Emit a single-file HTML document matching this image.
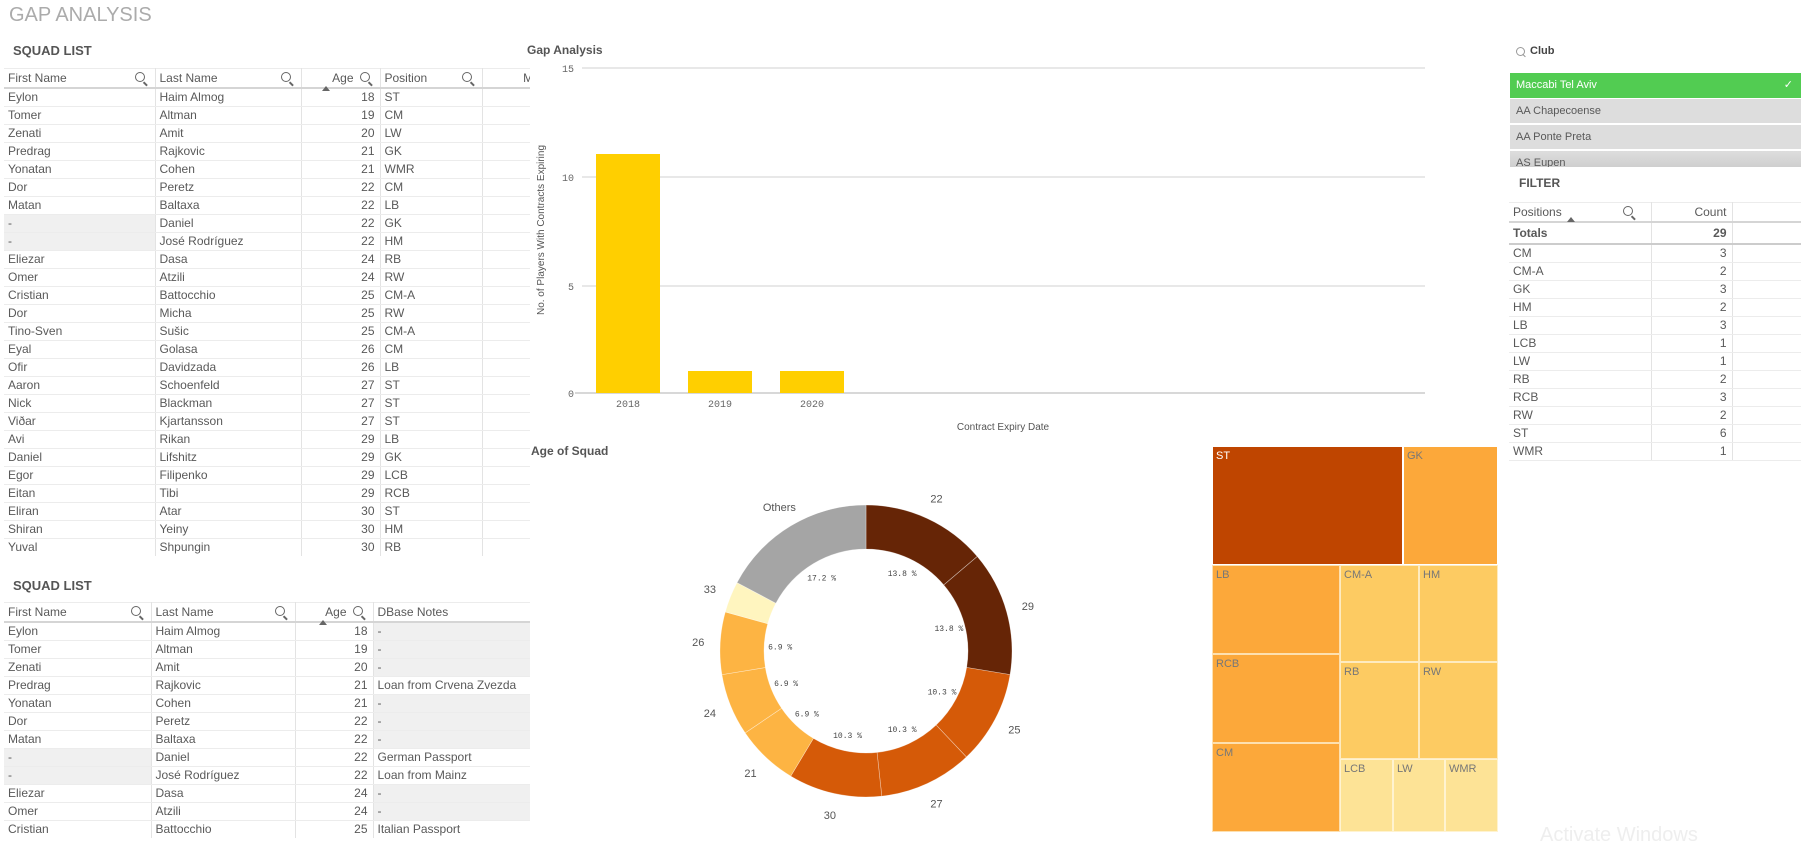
<!DOCTYPE html>
<html><head><meta charset="utf-8">
<style>
body{margin:0;width:1805px;height:838px;overflow:hidden;background:#fff;font-family:"Liberation Sans",sans-serif;color:#595959;position:relative}
.a{position:absolute}
.t{position:absolute;font-size:12px;white-space:nowrap}
table{border-collapse:collapse;table-layout:fixed;font-size:12px;color:#595959}
td{height:17px;line-height:17px;border-bottom:1px solid #ececec;border-right:1px solid #e3e3e3;padding:0 0 0 4px;white-space:nowrap;overflow:hidden}
th{height:18px;line-height:18px;font-weight:normal;text-align:left;padding:0 0 0 4px;border-right:1px solid #e3e3e3;border-bottom:2px solid #d5d5d5;border-top:1px solid #ececec;position:relative}
.r{text-align:right;padding-right:5px}
.g{background:#f0f0f0}
.h{font-weight:bold;font-size:13px;color:#555}
.q{position:absolute;right:10px;top:3px;width:8px;height:8px;border:1.5px solid #666;border-radius:50%}
.q:after{content:"";position:absolute;width:5px;height:1.5px;background:#666;left:7px;top:10px;transform:rotate(45deg)}
.tri{position:absolute;width:0;height:0;border-left:4px solid transparent;border-right:4px solid transparent;border-bottom:5px solid #666}
</style></head><body>
<div class="t" style="left:9px;top:4px;font-size:20px;color:#ababab">GAP ANALYSIS</div>
<div class="t h" style="left:13px;top:43px">SQUAD LIST</div>

<div class="a" style="left:4px;top:68px;width:526px;height:488px;overflow:hidden">
<table id="t1" style="width:560px"><colgroup><col style="width:151px"><col style="width:146px"><col style="width:79px"><col style="width:102px"><col style="width:82px"></colgroup>
<tr><th>First Name<span class="q"></span></th><th>Last Name<span class="q"></span></th><th style="text-align:right;padding-right:26px">Age<span class="q"></span><span class="tri" style="left:20px;top:17px"></span></th><th>Position<span class="q"></span></th><th>&nbsp;&nbsp;&nbsp;&nbsp;&nbsp;&nbsp;&nbsp;&nbsp;&nbsp;&nbsp;&nbsp;M</th></tr>
</table></div>

<div class="t h" style="left:13px;top:578px">SQUAD LIST</div>
<div class="a" style="left:4px;top:602px;width:526px;height:236px;overflow:hidden">
<table id="t2" style="width:526px"><colgroup><col style="width:147px"><col style="width:144px"><col style="width:78px"><col style="width:157px"></colgroup>
<tr><th>First Name<span class="q"></span></th><th>Last Name<span class="q"></span></th><th style="text-align:right;padding-right:26px">Age<span class="q"></span><span class="tri" style="left:23px;top:17px"></span></th><th style="border-right:none">DBase Notes</th></tr>
</table></div>

<!-- bar chart -->
<div class="t h" style="left:527px;top:43px;font-size:12px">Gap Analysis</div>
<svg class="a" style="left:520px;top:60px" width="920" height="380">
<g stroke="#e0e0e0" stroke-width="1.5"><line x1="62" y1="8" x2="905" y2="8"/><line x1="62" y1="117" x2="905" y2="117"/><line x1="62" y1="226" x2="905" y2="226"/></g>
<line x1="55" y1="333" x2="905" y2="333" stroke="#ccc" stroke-width="1.5"/>
<g fill="#ffcf00"><rect x="76" y="94" width="64" height="239"/><rect x="168" y="311" width="64" height="22"/><rect x="260" y="311" width="64" height="22"/></g>
<g font-family="Liberation Mono,monospace" font-size="10" fill="#666" text-anchor="end"><text x="54" y="12">15</text><text x="54" y="121">10</text><text x="54" y="230">5</text><text x="54" y="337">0</text></g>
<g font-family="Liberation Mono,monospace" font-size="10" fill="#666" text-anchor="middle"><text x="108" y="347">2018</text><text x="200" y="347">2019</text><text x="292" y="347">2020</text></g>
<text x="483" y="370" font-size="10" fill="#555" text-anchor="middle" font-family="Liberation Sans">Contract Expiry Date</text>
<text transform="translate(24,170) rotate(-90)" font-size="10" fill="#555" text-anchor="middle" font-family="Liberation Sans">No. of Players With Contracts Expiring</text>
</svg>

<!-- donut -->
<div class="t h" style="left:531px;top:444px;font-size:12px">Age of Squad</div>
<svg class="a" style="left:0;top:0" width="1805" height="838" id="dn"></svg>

<!-- treemap -->
<div class="a" style="left:1212px;top:446px;width:286px;height:386px;font-size:11px;color:#fff">
<div class="a" style="left:0;top:0;width:191px;height:119px;background:#bf4500;border:1px solid #fff;box-sizing:border-box;padding:3px">ST</div>
<div class="a" style="left:191px;top:0;width:95px;height:119px;background:#fca83a;border:1px solid #fff;box-sizing:border-box;padding:3px;color:#777">GK</div>
<div class="a" style="left:0;top:119px;width:128px;height:89px;background:#fca83a;border:1px solid #fde0b0;box-sizing:border-box;padding:3px;color:#777">LB</div>
<div class="a" style="left:0;top:208px;width:128px;height:89px;background:#fca83a;border:1px solid #fde0b0;box-sizing:border-box;padding:3px;color:#777">RCB</div>
<div class="a" style="left:0;top:297px;width:128px;height:89px;background:#fca83a;border:1px solid #fde0b0;box-sizing:border-box;padding:3px;color:#777">CM</div>
<div class="a" style="left:128px;top:119px;width:79px;height:97px;background:#fdcb62;border:1px solid #feebc0;box-sizing:border-box;padding:3px;color:#777">CM-A</div>
<div class="a" style="left:207px;top:119px;width:79px;height:97px;background:#fdcb62;border:1px solid #feebc0;box-sizing:border-box;padding:3px;color:#777">HM</div>
<div class="a" style="left:128px;top:216px;width:79px;height:97px;background:#fdcb62;border:1px solid #feebc0;box-sizing:border-box;padding:3px;color:#777">RB</div>
<div class="a" style="left:207px;top:216px;width:79px;height:97px;background:#fdcb62;border:1px solid #feebc0;box-sizing:border-box;padding:3px;color:#777">RW</div>
<div class="a" style="left:128px;top:313px;width:53px;height:73px;background:#fde396;border:1px solid #fff3d0;box-sizing:border-box;padding:3px;color:#777">LCB</div>
<div class="a" style="left:181px;top:313px;width:52px;height:73px;background:#fde396;border:1px solid #fff3d0;box-sizing:border-box;padding:3px;color:#777">LW</div>
<div class="a" style="left:233px;top:313px;width:53px;height:73px;background:#fde396;border:1px solid #fff3d0;box-sizing:border-box;padding:3px;color:#777">WMR</div>
</div>

<!-- club -->
<div class="a" style="left:1516px;top:47px;width:7px;height:7px;border:1px solid #999;border-radius:50%"></div>
<div class="a" style="left:1522px;top:55px;width:4px;height:1px;background:#999;transform:rotate(45deg)"></div>
<div class="t" style="left:1530px;top:45px;font-weight:bold;font-size:11px;color:#444">Club</div>
<div class="a" style="left:1510px;top:73px;width:291px;height:25px;background:#52cc52;color:#fff;font-size:11px;line-height:25px;padding-left:6px;box-sizing:border-box">Maccabi Tel Aviv<span style="position:absolute;right:8px">✓</span></div>
<div class="a" style="left:1510px;top:99px;width:291px;height:24px;background:#dddddd;font-size:11px;line-height:24px;padding-left:6px;box-sizing:border-box">AA Chapecoense</div>
<div class="a" style="left:1510px;top:125px;width:291px;height:24px;background:#dddddd;font-size:11px;line-height:24px;padding-left:6px;box-sizing:border-box">AA Ponte Preta</div>
<div class="a" style="left:1510px;top:151px;width:291px;height:16px;background:linear-gradient(#dddddd,#cfcfcf);font-size:11px;line-height:24px;padding-left:6px;box-sizing:border-box;overflow:hidden">AS Eupen</div>
<div class="t h" style="left:1519px;top:176px;font-size:12px">FILTER</div>
<div class="a" style="left:1509px;top:202px;width:292px;overflow:hidden">
<table id="t3" style="width:292px"><colgroup><col style="width:142px"><col style="width:81px"><col style="width:69px"></colgroup>
<tr><th>Positions<span class="q" style="right:18px"></span><span class="tri" style="left:58px;top:14px"></span></th><th class="r">Count</th><th style="border-right:none"></th></tr>
<tr><td style="font-weight:bold;height:20px;border-bottom:2px solid #ccc">Totals</td><td class="r" style="font-weight:bold;border-bottom:2px solid #ccc">29</td><td style="border-right:none;border-bottom:2px solid #ccc"></td></tr>
</table></div>
<div class="t" style="left:1540px;top:824px;font-size:20px;color:#eeeeee">Activate Windows</div>

<script>
var d1=[["Eylon","Haim Almog",18,"ST"],["Tomer","Altman",19,"CM"],["Zenati","Amit",20,"LW"],["Predrag","Rajkovic",21,"GK"],["Yonatan","Cohen",21,"WMR"],["Dor","Peretz",22,"CM"],["Matan","Baltaxa",22,"LB"],["-","Daniel",22,"GK"],["-","José Rodríguez",22,"HM"],["Eliezar","Dasa",24,"RB"],["Omer","Atzili",24,"RW"],["Cristian","Battocchio",25,"CM-A"],["Dor","Micha",25,"RW"],["Tino-Sven","Sušic",25,"CM-A"],["Eyal","Golasa",26,"CM"],["Ofir","Davidzada",26,"LB"],["Aaron","Schoenfeld",27,"ST"],["Nick","Blackman",27,"ST"],["Viðar","Kjartansson",27,"ST"],["Avi","Rikan",29,"LB"],["Daniel","Lifshitz",29,"GK"],["Egor","Filipenko",29,"LCB"],["Eitan","Tibi",29,"RCB"],["Eliran","Atar",30,"ST"],["Shiran","Yeiny",30,"HM"],["Yuval","Shpungin",30,"RB"]];
var notes=["-","-","-","Loan from Crvena Zvezda","-","-","-","German Passport","Loan from Mainz","-","-","Italian Passport","-"];
var h="";d1.forEach(function(r){h+="<tr><td"+(r[0]=="-"?" class=g":"")+">"+r[0]+"</td><td>"+r[1]+"</td><td class=r>"+r[2]+"</td><td>"+r[3]+"</td><td></td></tr>"});
document.getElementById("t1").insertAdjacentHTML("beforeend",h);
h="";for(var i=0;i<13;i++){var r=d1[i];h+="<tr><td"+(r[0]=="-"?" class=g":"")+">"+r[0]+"</td><td>"+r[1]+"</td><td class=r>"+r[2]+"</td><td style='border-right:none' "+(notes[i]=="-"?"class=g":"")+">"+notes[i]+"</td></tr>"}
document.getElementById("t2").insertAdjacentHTML("beforeend",h);
var f=[["CM",3],["CM-A",2],["GK",3],["HM",2],["LB",3],["LCB",1],["LW",1],["RB",2],["RCB",3],["RW",2],["ST",6],["WMR",1]];
h="";f.forEach(function(r){h+="<tr><td>"+r[0]+"</td><td class=r>"+r[1]+"</td><td style='border-right:none'></td></tr>"});
document.getElementById("t3").insertAdjacentHTML("beforeend",h);
var cx=866,cy=651,R=146,r0=102;
var seg=[["22",4,"#662506"],["29",4,"#662506"],["25",3,"#d55a08"],["27",3,"#d55a08"],["30",3,"#d55a08"],["21",2,"#fdb443"],["24",2,"#fdb443"],["26",2,"#fdb443"],["33",1,"#fff5bf"],["Others",5,"#a5a5a5"]];
var pct={1:"3.4 %",2:"6.9 %",3:"10.3 %",4:"13.8 %",5:"17.2 %"};
var a=0,s="";function P(rr,t){return [cx+rr*Math.sin(t),cy-rr*Math.cos(t)]}
seg.forEach(function(g){var a1=a+g[1]/29*2*Math.PI,p1=P(R,a),p2=P(R,a1),p3=P(r0,a1),p4=P(r0,a),L=(a1-a)>Math.PI?1:0;
s+="<path d='M"+p1+"A"+R+","+R+" 0 "+L+" 1 "+p2+"L"+p3+"A"+r0+","+r0+" 0 "+L+" 0 "+p4+"Z' fill='"+g[2]+"' stroke='#fff' stroke-width='0.6' stroke-opacity='0.5'/>";
var m=(a+a1)/2,lp=P(168,m);s+="<text x='"+lp[0]+"' y='"+(lp[1]+4)+"' text-anchor='middle' font-size='11' fill='#555' font-family='Liberation Sans'>"+g[0]+"</text>";
if(g[1]>1){var ip=P(86,m);s+="<text x='"+ip[0]+"' y='"+(ip[1]+3)+"' text-anchor='middle' font-size='8' fill='#444' font-family='Liberation Mono,monospace'>"+pct[g[1]]+"</text>";}
a=a1});
document.getElementById("dn").innerHTML=s;
</script>
</body></html>
